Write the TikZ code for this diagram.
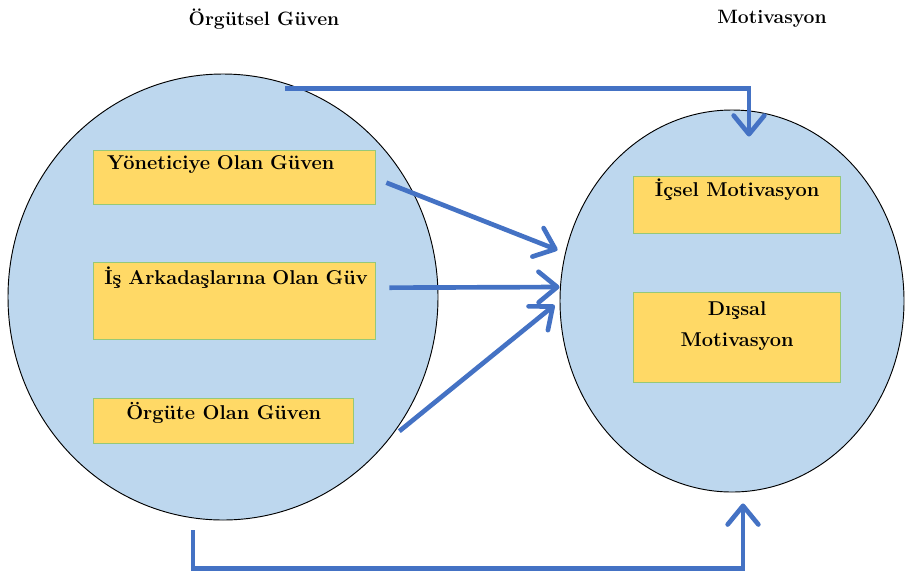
\documentclass[tikz,border=0pt]{standalone}
\usepackage{fontspec}
\usetikzlibrary{arrows.meta,calc,shapes.geometric}
\definecolor{elmavi}{RGB}{189,215,238}
\definecolor{kutusari}{RGB}{255,217,102}
\definecolor{kutuyesil}{RGB}{150,200,120}
\definecolor{okmavi}{RGB}{68,114,196}

\begin{document}
\begin{tikzpicture}[x=0.75pt,y=-0.75pt,
  halka/.style={ellipse, draw=black, line width=0.7pt, fill=elmavi, inner sep=0pt},
  kutu/.style={rectangle, draw=kutuyesil, line width=1pt, fill=kutusari, anchor=north west,
    inner sep=0pt, font=\fontsize{15}{23}\selectfont\bfseries},
  baslik/.style={font=\fontsize{14.5}{16}\selectfont\bfseries},
  ok/.style={draw=okmavi, line width=3.5pt, -{Straight Barb[length=14pt,width=23pt,round]}}]
  \useasboundingbox (0,0) rectangle (905,576);
  \node[baslik] (b1) at (264,19) {Örgütsel Güven};
  \node[baslik] (b2) at (772,19) {Motivasyon};
  \node[halka, minimum width=322.5pt, minimum height=334.5pt] (orgut) at (223,297) {};
  \node[halka, minimum width=258pt, minimum height=286.5pt] (motiv) at (732,301) {};
  \node[kutu, text width=191.5pt, align=left, inner xsep=10pt, text height=13.9pt, text depth=26.6pt] (yon) at (93,150) {Yöneticiye Olan Güven};
  \node[kutu, text width=195.5pt, align=left, inner xsep=8pt, text height=16.1pt, text depth=41.65pt] (is) at (93,262) {\mbox{İş Arkadaşlarına Olan Güv}};
  \node[kutu, minimum width=195pt, text height=15.35pt, text depth=18.4pt] (org) at (93,398) {Örgüte Olan Güven};
  \node[kutu, minimum width=155.25pt, text height=14.6pt, text depth=28.15pt] (icsel) at (633,176) {İçsel Motivasyon};
  \node[kutu, minimum width=155.25pt, minimum height=67.5pt, align=center] (dissal) at (633,292) {Dışsal\\Motivasyon\\[-3pt]\mbox{}};
  \draw[ok] ($(yon.east)+(10,5)$) -- ($(motiv.west)+(-2,-51)$);
  \draw[ok] ($(is.east)+(13,-13.5)$) -- ($(motiv.west)+(0,-14)$);
  \draw[ok] ($(org.east)+(45,10)$) -- ($(motiv.west)+(-5,4)$);
  \draw[ok] ($(orgut.north)+(62,15)$) -| ($(motiv.north)+(17,27)$);
  \draw[ok] ($(orgut.south)+(-30,10)$) -- ++(0,38) -| ($(motiv.south)+(11,11)$);
\end{tikzpicture}
\end{document}
